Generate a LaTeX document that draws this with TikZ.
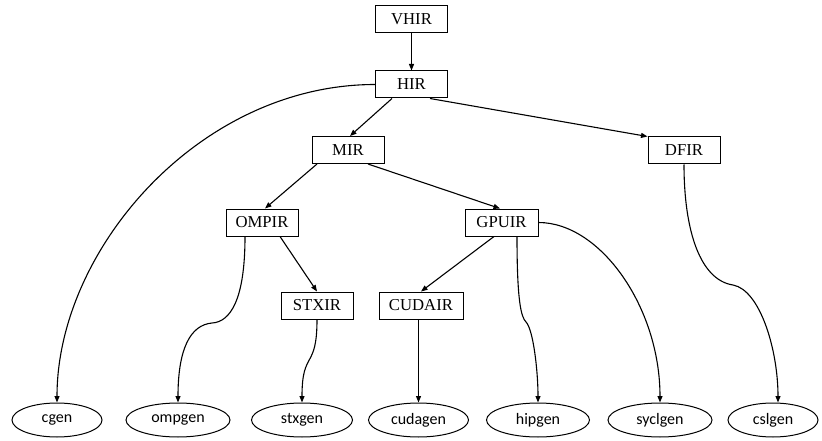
\documentclass[tikz,border=0pt]{standalone}
\usepackage{fontspec}
\setmainfont{Liberation Serif}
\newfontfamily\calfont{Carlito}
\usetikzlibrary{arrows.meta,shapes.geometric}
\begin{document}
\begin{tikzpicture}[x=1pt,y=-1pt,
  irbox/.style={draw, line width=1pt, minimum width=72pt, minimum height=27pt, inner sep=0pt, font=\fontsize{16.7}{18}\selectfont},
  genell/.style={draw, ellipse, line width=1pt, minimum height=34pt, inner sep=0pt, font=\calfont\fontsize{16}{18}\selectfont},
  conn/.style={line width=1.1pt, -{Triangle[length=6.5pt,width=5pt]}}]
\useasboundingbox (0,0) rectangle (822,441);
% boxes
\node[irbox] (VHIR) at (411.5,19.5) {VHIR};
\node[irbox] (HIR) at (411.5,84.5) {HIR};
\node[irbox] (MIR) at (348,150) {MIR};
\node[irbox] (DFIR) at (684,150.5) {DFIR};
\node[irbox] (OMPIR) at (262,222.5) {OMPIR};
\node[irbox, minimum width=73pt] (GPUIR) at (501.5,222.5) {GPUIR};
\node[irbox] (STXIR) at (317,305.5) {STXIR};
\node[irbox, minimum width=84pt] (CUDAIR) at (421,305.5) {CUDAIR};
% ellipses
\node[genell, minimum width=90pt] (cgen) at (57,420) {cgen};
\node[genell, minimum width=104pt] (ompgen) at (178,420) {ompgen};
\node[genell, minimum width=101pt] (stxgen) at (302,420) {stxgen};
\node[genell, minimum width=100pt] (cudagen) at (418.5,420) {cudagen};
\node[genell, minimum width=103pt] (hipgen) at (538,420) {hipgen};
\node[genell, minimum width=104pt] (syclgen) at (660,420) {syclgen};
\node[genell, minimum width=90pt] (cslgen) at (773,420) {cslgen};
% bend points
\coordinate (k1) at (212,323);
\coordinate (k2) at (526,322);
\coordinate (k3) at (733,285);
% straight connectors
\draw[conn] (VHIR.south) -- (HIR.north);
\draw[conn] ([xshift=-19.5pt]HIR.south) -- ([xshift=2pt]MIR.north);
\draw[conn] ([xshift=18.5pt]HIR.south) -- (DFIR.north west);
\draw[conn] ([xshift=-31pt]MIR.south) -- ([xshift=3pt]OMPIR.north);
\draw[conn] ([xshift=20pt]MIR.south) -- ([xshift=-1.5pt]GPUIR.north);
\draw[conn] ([xshift=18pt]OMPIR.south) -- (STXIR.north);
\draw[conn] ([xshift=-7.5pt]GPUIR.south) -- (CUDAIR.north);
\draw[conn] (cudagen.north |- CUDAIR.south) -- (cudagen.north);
% curved connectors
\draw[conn] (HIR.west) .. controls +(-175.5,0) and +(0,-153) .. (cgen.north);
\draw[conn] ([xshift=-17pt]OMPIR.south) .. controls +(0,64) and +(18,-1) .. (k1)
  .. controls +(-22,2) and +(0,-53) .. (ompgen.north);
\draw[conn] (STXIR.south) .. controls +(0,51) and +(0,-53) .. (stxgen.north);
\draw[conn] ([xshift=15.5pt]GPUIR.south) .. controls +(0,64) and +(-5,-5) .. (k2)
  .. controls +(7,7) and +(0,-33) .. (hipgen.north);
\draw[conn] (GPUIR.east) .. controls +(62,0) and +(0,-95) .. (syclgen.north);
\draw[conn] (DFIR.south) .. controls +(0,66) and +(-33,-5) .. (k3)
  .. controls +(27,5) and +(0,-53) .. ([xshift=5pt]cslgen.north);
\end{tikzpicture}
\end{document}
